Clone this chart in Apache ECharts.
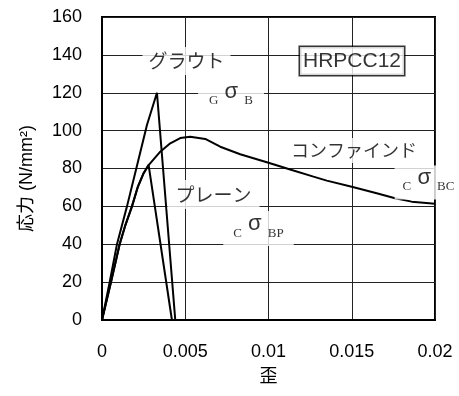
<!DOCTYPE html>
<html><head><meta charset="utf-8">
<script src="https://cdn.jsdelivr.net/npm/echarts@6/dist/echarts.min.js"></script>
<style>html,body{margin:0;padding:0;background:#fff}#c{width:459px;height:396px}</style>
</head><body><div id="c"></div>
<script>
// ---- data ----
const groutStrain = [0, 0.00046, 0.0009, 0.0012, 0.0015, 0.00206, 0.0027, 0.0033, 0.0044];
const groutStress = [0, 20, 40, 50, 60, 80, 103, 120, 0];

const plainStrain = [0, 0.00054, 0.00106, 0.0014, 0.0018, 0.00214, 0.0025, 0.0028, 0.0042];
const plainStress = [0, 20, 40, 50, 60, 70, 77.5, 81.8, 0];

const confStrain = [0, 0.00054, 0.00106, 0.0014, 0.0018, 0.00214, 0.0025, 0.0028, 0.0035, 0.0041, 0.0047, 0.0053, 0.0062, 0.0071, 0.0083, 0.01, 0.0113, 0.0127, 0.0135, 0.015, 0.0165, 0.0176, 0.0186, 0.02];
const confStress = [0, 20, 40, 50, 60, 70, 77.5, 81.8, 88.9, 93.3, 96.1, 96.8, 95.6, 91.5, 87.5, 83, 79.5, 75.7, 73.6, 70.4, 66.9, 64.3, 62.5, 61.4];

const xTicks = [0, 0.005, 0.01, 0.015, 0.02];
const yTicks = [0, 20, 40, 60, 80, 100, 120, 140, 160];

const seriesNames = ['グラウト', 'プレーン', 'コンファインド'];
const specimen = 'HRPCC12';
const xName = '歪';
const yName = '応力 (N/mm²)';

// ---- chart ----
const pair = (xs, ys) => xs.map((x, i) => [x, ys[i]]);
const sans = 'Liberation Sans, Arial, Noto Sans CJK JP';
const jp = 'Noto Sans CJK JP, sans-serif';

const sigmaRich = {
  s: { fontFamily: 'Liberation Serif', fontSize: 13, lineHeight: 13, verticalAlign: 'bottom', color: '#000' },
  g: { fontFamily: 'Liberation Sans', fontSize: 22, lineHeight: 22, padding: [0, 0, 5, 0], verticalAlign: 'bottom', color: '#000' }
};
function sigmaLabel(pre, post, pad) {
  return {
    show: true, position: 'inside', backgroundColor: '#fff', padding: pad,
    formatter: '{s|' + pre + '}{g| σ }{s|' + post + '}', rich: sigmaRich
  };
}
function textLabel(txt, size, pad, extra) {
  return Object.assign({
    show: true, position: 'inside', backgroundColor: '#fff', padding: pad,
    formatter: txt, fontFamily: jp, fontSize: size, lineHeight: size, color: '#000'
  }, extra || {});
}

const annotations = [
  { value: [0.005075, 136.8], label: textLabel(seriesNames[0], 19, [5, 6, 4, 6]) },
  { value: [0.015015, 136.8], label: textLabel(specimen, 21, [4, 3, 3, 3], { fontFamily: sans, borderColor: '#000', borderWidth: 1.5 }) },
  { value: [0.0067, 66.3], label: textLabel(seriesNames[1], 19, [5, 8, 5, 8]) },
  { value: [0.015135, 89.5], label: textLabel(seriesNames[2], 18, [4, 5, 3, 5]) },
  { value: [0.00775, 118.3], label: sigmaLabel('G', 'B', [7, 11, 6, 11]) },
  { value: [0.0094, 48.3], label: sigmaLabel('C', 'BP', [7, 10, 6, 10]) },
  { value: [0.01961, 72.6], label: sigmaLabel('C', 'BC', [6, 8, 6, 8]) }
];

const lineStyle = { color: '#000', width: 2 };
const chart = echarts.init(document.getElementById('c'), null, { renderer: 'canvas' });
chart.setOption({
  animation: false,
  backgroundColor: '#fff',
  grid: { left: 102, right: 24, top: 17, bottom: 76, show: true, borderColor: '#000', borderWidth: 2, backgroundColor: 'transparent' },
  xAxis: {
    type: 'value', min: xTicks[0], max: xTicks[xTicks.length - 1], interval: xTicks[1] - xTicks[0],
    name: xName, nameLocation: 'middle', nameGap: 40,
    nameTextStyle: { fontFamily: jp, fontSize: 18, color: '#000' },
    axisLine: { show: true, onZero: false, lineStyle: { color: '#000', width: 2 } },
    axisTick: { show: false },
    axisLabel: { color: '#000', fontFamily: sans, fontSize: 18, margin: 23, formatter: v => String(v) },
    splitLine: { show: true, lineStyle: { color: '#222', width: 1 } }
  },
  yAxis: {
    type: 'value', min: yTicks[0], max: yTicks[yTicks.length - 1], interval: yTicks[1] - yTicks[0],
    name: yName, nameLocation: 'middle', nameGap: 66, nameRotate: 90,
    nameTextStyle: { fontFamily: sans, fontSize: 18, color: '#000', padding: [0, 20, 0, 0] },
    axisLine: { show: true, onZero: false, lineStyle: { color: '#000', width: 2 } },
    axisTick: { show: false },
    axisLabel: { color: '#000', fontFamily: sans, fontSize: 18, margin: 20, padding: [10, 0, 0, 0] },
    splitLine: { show: true, lineStyle: { color: '#222', width: 1 } }
  },
  series: [
    { name: seriesNames[0], type: 'line', data: pair(groutStrain, groutStress), showSymbol: false, lineStyle, z: 3 },
    { name: seriesNames[1], type: 'line', data: pair(plainStrain, plainStress), showSymbol: false, lineStyle, z: 3 },
    { name: seriesNames[2], type: 'line', data: pair(confStrain, confStress), showSymbol: false, lineStyle, z: 3 },
    { type: 'scatter', data: annotations, symbolSize: 0, z: 10, silent: true }
  ]
});
</script></body></html>
